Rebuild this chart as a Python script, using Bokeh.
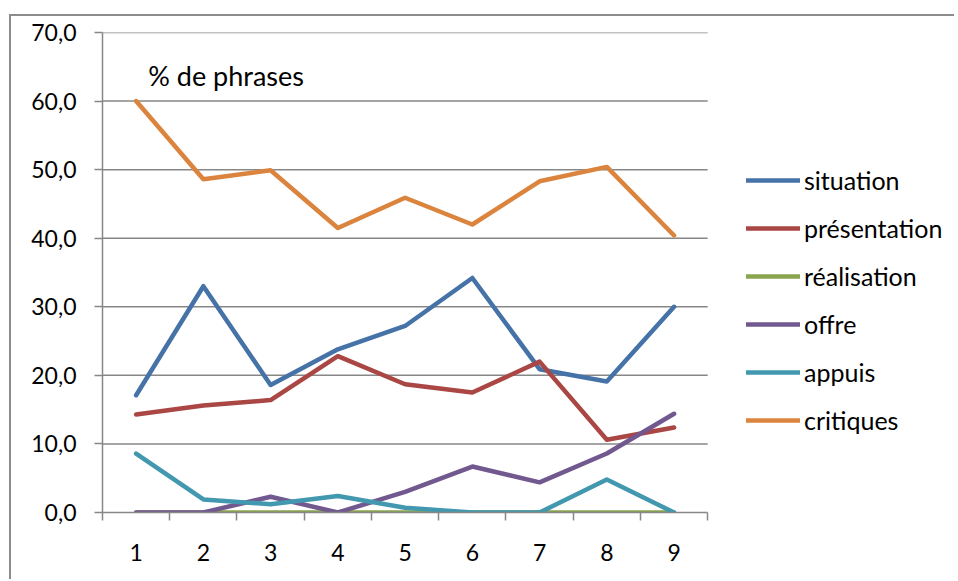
from bokeh.plotting import figure
from bokeh.models import FixedTicker, Legend, LegendItem, Label, Range1d
from bokeh.embed import file_html
from bokeh.resources import INLINE

categories = [1, 2, 3, 4, 5, 6, 7, 8, 9]
situation = [17.1, 33.0, 18.6, 23.8, 27.2, 34.2, 20.9, 19.1, 30.0]
presentation = [14.3, 15.6, 16.4, 22.8, 18.7, 17.5, 22.0, 10.6, 12.4]
realisation = [0, 0, 0, 0, 0, 0, 0, 0, 0]
offre = [0, 0, 2.3, 0, 3.0, 6.7, 4.4, 8.6, 14.4]
appuis = [8.6, 1.9, 1.2, 2.4, 0.7, 0, 0, 4.8, 0]
critiques = [60.0, 48.6, 49.9, 41.5, 45.9, 42.0, 48.3, 50.4, 40.4]
y_ticks = [0, 10, 20, 30, 40, 50, 60, 70]
y_labels = ["0,0", "10,0", "20,0", "30,0", "40,0", "50,0", "60,0", "70,0"]

series = [
    ("situation", situation, "#4572A7"),
    ("présentation", presentation, "#AA4643"),
    ("réalisation", realisation, "#89A54E"),
    ("offre", offre, "#71588F"),
    ("appuis", appuis, "#4198AF"),
    ("critiques", critiques, "#DB843D"),
]

FONT = "Lato"
GRAY = "#878787"
x_lo, x_hi = categories[0] - 0.5, categories[-1] + 0.5

p = figure(width=945, height=565, output_backend="svg", toolbar_location=None,
           x_range=Range1d(x_lo, 13.2), y_range=Range1d(0, 70),
           min_border_left=91, min_border_top=16, min_border_right=0,
           min_border_bottom=69)
p.styles = {"border-left": "2px solid #8c8c8c", "border-top": "2px solid #8c8c8c",
            "margin-left": "9px", "margin-top": "14px"}
p.outline_line_color = None
p.background_fill_color = "white"
p.border_fill_color = "white"

# grid (horizontal lines limited to the category span)
p.xgrid.grid_line_color = None
p.ygrid.grid_line_color = None
grid_y = y_ticks[1:]
p.segment(x0=[x_lo] * len(grid_y), y0=grid_y, x1=[x_hi] * len(grid_y), y1=grid_y,
          line_color=GRAY, line_width=1.5)

# y axis
p.yaxis.ticker = FixedTicker(ticks=y_ticks)
p.yaxis.major_label_overrides = {t: l for t, l in zip(y_ticks, y_labels)}
p.yaxis.axis_line_color = GRAY
p.yaxis.axis_line_width = 1.5
p.yaxis.major_tick_line_color = GRAY
p.yaxis.major_tick_line_width = 1.5
p.yaxis.major_tick_out = 8
p.yaxis.major_tick_in = 0
p.yaxis.minor_tick_line_color = None
p.yaxis.major_label_text_font = FONT
p.yaxis.major_label_text_font_size = "23px"
p.yaxis.major_label_text_color = "black"
p.yaxis.major_label_standoff = 18

# x axis
p.xaxis.ticker = FixedTicker(ticks=categories, minor_ticks=[c - 0.5 for c in categories] + [x_hi])
p.xaxis.bounds = (x_lo, x_hi)
p.xaxis.major_label_overrides = {c: str(c) for c in categories}
p.xaxis.axis_line_color = GRAY
p.xaxis.axis_line_width = 1.5
p.xaxis.major_tick_line_color = None
p.xaxis.major_tick_out = 0
p.xaxis.major_tick_in = 0
p.xaxis.minor_tick_line_color = GRAY
p.xaxis.minor_tick_line_width = 1.5
p.xaxis.minor_tick_out = 8
p.xaxis.minor_tick_in = 0
p.xaxis.major_label_text_font = FONT
p.xaxis.major_label_text_font_size = "23px"
p.xaxis.major_label_text_color = "black"
p.xaxis.major_label_standoff = 23

items = []
for name, vals, color in series:
    r = p.line(categories, vals, line_color=color, line_width=4.5,
               line_join="round", line_cap="round")
    items.append(LegendItem(label=name, renderers=[r]))

legend = Legend(items=items, location=(644, 77), orientation="vertical",
                glyph_width=54, glyph_height=24, label_height=24,
                label_standoff=4, spacing=18, padding=0, margin=0,
                border_line_color=None, background_fill_alpha=0,
                label_text_font=FONT, label_text_font_size="25px",
                label_text_color="black")
p.add_layout(legend, "center")

p.add_layout(Label(x=1.18, y=63.7, text="% de phrases", text_font=FONT,
                   text_font_size="27px", text_color="black",
                   text_baseline="alphabetic"))

open("out.html", "w").write(file_html(p, INLINE))
